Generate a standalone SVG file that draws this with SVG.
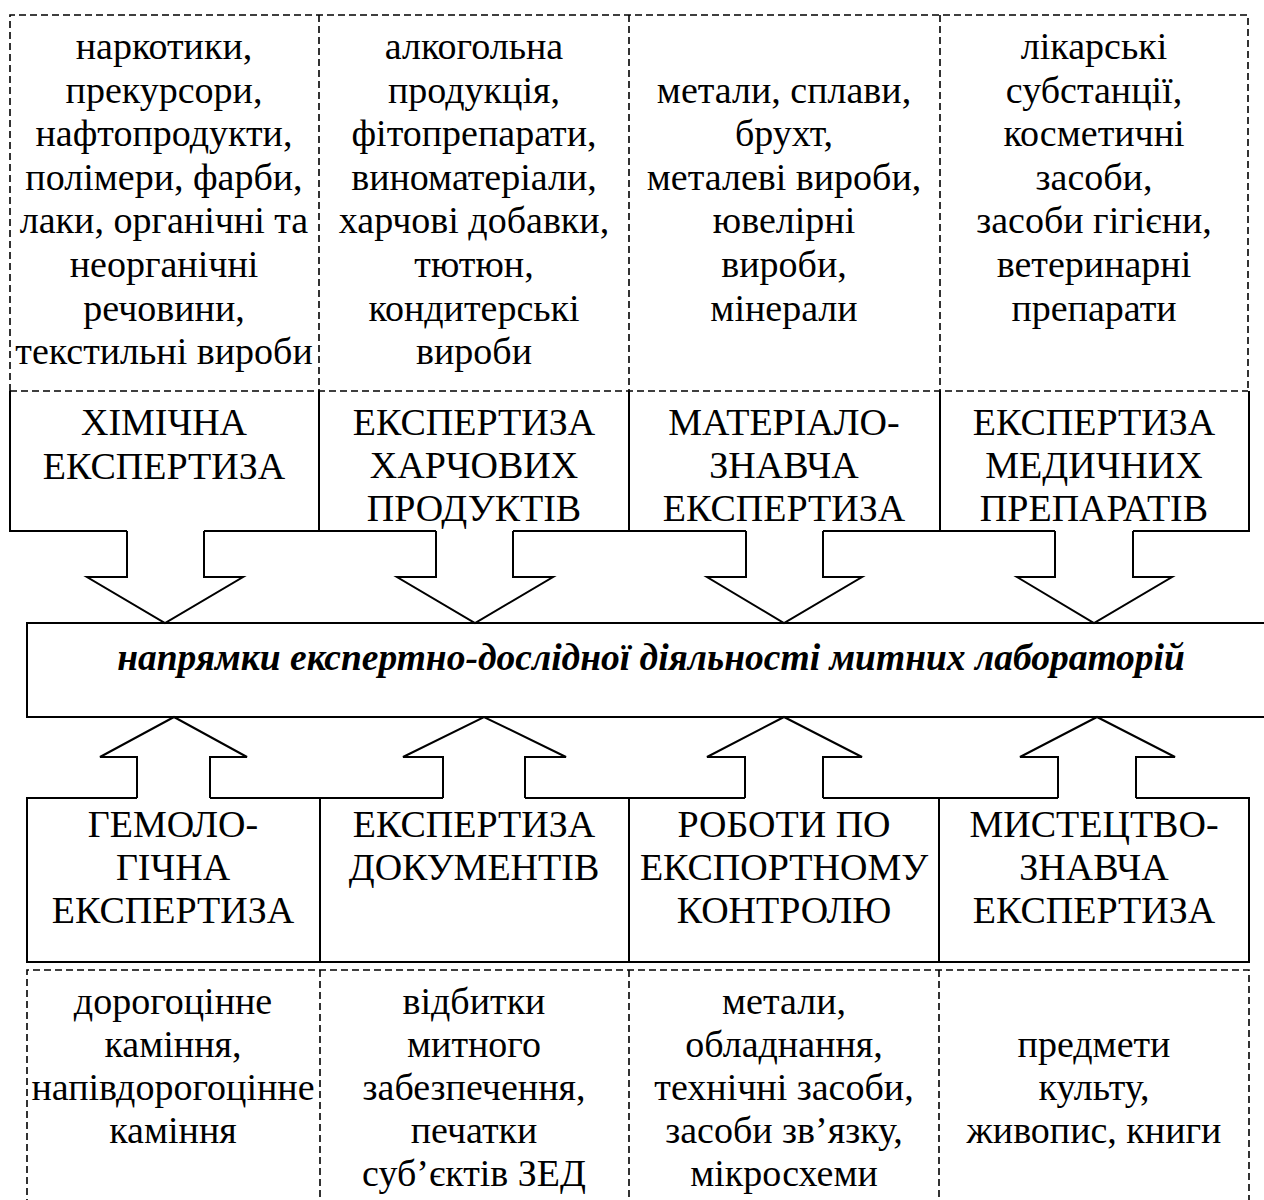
<svg xmlns="http://www.w3.org/2000/svg" width="1264" height="1200" viewBox="0 0 1264 1200">
<style>
  .t { font-family: "Liberation Serif", "Times New Roman", serif; font-size: 38px; fill: #000; text-anchor: middle; }
  .main { font-family: "Liberation Serif", "Times New Roman", serif; font-size: 37.5px; font-weight: bold; font-style: italic; fill: #000; text-anchor: middle; }
  .solid { fill: none; stroke: #000; stroke-width: 2; }
  .dash { fill: none; stroke: #000; stroke-width: 1.6; stroke-dasharray: 7 4; }
  .arrow { fill: #fff; stroke: #000; stroke-width: 2; stroke-linejoin: miter; }
</style>
<rect width="1264" height="1200" fill="#fff"/>

<!-- top dashed frame (material lists) -->
<g id="top-lists">
  <path class="dash" d="M10,391 V15 H1248 V391 M319,15 V391 M629,15 V391 M940,15 V391 M10,391 H1248"/>
</g>

<g id="top-list-1">
  <text class="t" x="164" y="59">наркотики,</text>
  <text class="t" x="164" y="102.6">прекурсори,</text>
  <text class="t" x="164" y="146.2">нафтопродукти,</text>
  <text class="t" x="164" y="189.8">полімери, фарби,</text>
  <text class="t" x="164" y="233.4">лаки, органічні та</text>
  <text class="t" x="164" y="277">неорганічні</text>
  <text class="t" x="164" y="320.6">речовини,</text>
  <text class="t" x="164" y="364.2">текстильні вироби</text>
</g>
<g id="top-list-2">
  <text class="t" x="474" y="59">алкогольна</text>
  <text class="t" x="474" y="102.6">продукція,</text>
  <text class="t" x="474" y="146.2">фітопрепарати,</text>
  <text class="t" x="474" y="189.8">виноматеріали,</text>
  <text class="t" x="474" y="233.4">харчові добавки,</text>
  <text class="t" x="474" y="277">тютюн,</text>
  <text class="t" x="474" y="320.6">кондитерські</text>
  <text class="t" x="474" y="364.2">вироби</text>
</g>
<g id="top-list-3">
  <text class="t" x="784" y="102.6">метали, сплави,</text>
  <text class="t" x="784" y="146.2">брухт,</text>
  <text class="t" x="784" y="189.8">металеві вироби,</text>
  <text class="t" x="784" y="233.4">ювелірні</text>
  <text class="t" x="784" y="277">вироби,</text>
  <text class="t" x="784" y="320.6">мінерали</text>
</g>
<g id="top-list-4">
  <text class="t" x="1094" y="59">лікарські</text>
  <text class="t" x="1094" y="102.6">субстанції,</text>
  <text class="t" x="1094" y="146.2">косметичні</text>
  <text class="t" x="1094" y="189.8">засоби,</text>
  <text class="t" x="1094" y="233.4">засоби гігієни,</text>
  <text class="t" x="1094" y="277">ветеринарні</text>
  <text class="t" x="1094" y="320.6">препарати</text>
</g>

<!-- top expertise boxes -->
<g id="node-chem">
  <path class="solid" d="M10,391 V531 H127 M204,531 H319 V391"/>
  <text class="t" x="164" y="435">ХІМІЧНА</text>
  <text class="t" x="164" y="479">ЕКСПЕРТИЗА</text>
</g>
<g id="node-food">
  <path class="solid" d="M319,531 H436 M513,531 H629 V391"/>
  <text class="t" x="474" y="435">ЕКСПЕРТИЗА</text>
  <text class="t" x="474" y="478">ХАРЧОВИХ</text>
  <text class="t" x="474" y="521">ПРОДУКТІВ</text>
</g>
<g id="node-material">
  <path class="solid" d="M629,531 H746 M823,531 H940 V391"/>
  <text class="t" x="784" y="435">МАТЕРІАЛО-</text>
  <text class="t" x="784" y="478">ЗНАВЧА</text>
  <text class="t" x="784" y="521">ЕКСПЕРТИЗА</text>
</g>
<g id="node-med">
  <path class="solid" d="M940,531 H1055 M1133,531 H1249 V391"/>
  <text class="t" x="1094" y="435">ЕКСПЕРТИЗА</text>
  <text class="t" x="1094" y="478">МЕДИЧНИХ</text>
  <text class="t" x="1094" y="521">ПРЕПАРАТІВ</text>
</g>

<!-- central box -->
<g id="node-center">
  <rect class="solid" x="27" y="623" width="1250" height="94" fill="#fff"/>
  <text class="main" x="651" y="670">напрямки експертно-дослідної діяльності митних лабораторій</text>
</g>

<!-- bottom expertise boxes -->
<g id="node-gem">
  <path class="solid" d="M137,798 H27 V962 H320 V798 H210"/>
  <text class="t" x="173" y="837">ГЕМОЛО-</text>
  <text class="t" x="173" y="880">ГІЧНА</text>
  <text class="t" x="173" y="923">ЕКСПЕРТИЗА</text>
</g>
<g id="node-docs">
  <path class="solid" d="M320,798 H443 M525,798 H629 V962 H320"/>
  <text class="t" x="474" y="837">ЕКСПЕРТИЗА</text>
  <text class="t" x="474" y="880">ДОКУМЕНТІВ</text>
</g>
<g id="node-export">
  <path class="solid" d="M629,798 H745 M823,798 H939 V962 H629"/>
  <text class="t" x="784" y="837">РОБОТИ ПО</text>
  <text class="t" x="784" y="880">ЕКСПОРТНОМУ</text>
  <text class="t" x="784" y="923">КОНТРОЛЮ</text>
</g>
<g id="node-art">
  <path class="solid" d="M939,798 H1058 M1136,798 H1249 V962 H939"/>
  <text class="t" x="1094" y="837">МИСТЕЦТВО-</text>
  <text class="t" x="1094" y="880">ЗНАВЧА</text>
  <text class="t" x="1094" y="923">ЕКСПЕРТИЗА</text>
</g>

<!-- bottom dashed frame -->
<g id="bottom-lists">
  <path class="dash" d="M27,1206 V970 H1249 V1206 M320,970 V1206 M629,970 V1206 M939,970 V1206"/>
</g>
<g id="bottom-list-1">
  <text class="t" x="173" y="1014">дорогоцінне</text>
  <text class="t" x="173" y="1057">каміння,</text>
  <text class="t" x="173" y="1100">напівдорогоцінне</text>
  <text class="t" x="173" y="1143">каміння</text>
</g>
<g id="bottom-list-2">
  <text class="t" x="474" y="1014">відбитки</text>
  <text class="t" x="474" y="1057">митного</text>
  <text class="t" x="474" y="1100">забезпечення,</text>
  <text class="t" x="474" y="1143">печатки</text>
  <text class="t" x="474" y="1186">суб’єктів ЗЕД</text>
</g>
<g id="bottom-list-3">
  <text class="t" x="784" y="1014">метали,</text>
  <text class="t" x="784" y="1057">обладнання,</text>
  <text class="t" x="784" y="1100">технічні засоби,</text>
  <text class="t" x="784" y="1143">засоби зв’язку,</text>
  <text class="t" x="784" y="1186">мікросхеми</text>
</g>
<g id="bottom-list-4">
  <text class="t" x="1094" y="1057">предмети</text>
  <text class="t" x="1094" y="1100">культу,</text>
  <text class="t" x="1094" y="1143">живопис, книги</text>
</g>

<!-- block arrows -->
<g id="connectors">
  <path class="arrow" d="M127,531 V577 H87 L165,623 L243,577 H204 V531"/>
  <path class="arrow" d="M436,531 V577 H397 L475,623 L553,577 H513 V531"/>
  <path class="arrow" d="M746,531 V577 H707 L784,623 L862,577 H823 V531"/>
  <path class="arrow" d="M1055,531 V577 H1017 L1094,623 L1172,577 H1133 V531"/>
  <path class="arrow" d="M137,798 V757 H100 L174,717 L247,757 H210 V798"/>
  <path class="arrow" d="M443,798 V757 H403 L484,717 L566,757 H525 V798"/>
  <path class="arrow" d="M745,798 V757 H707 L784,717 L862,757 H823 V798"/>
  <path class="arrow" d="M1058,798 V757 H1020 L1097,717 L1175,757 H1136 V798"/>
</g>
</svg>
